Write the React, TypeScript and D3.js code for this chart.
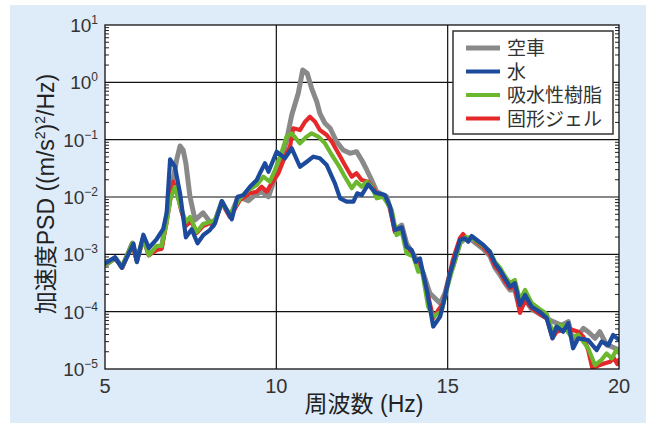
import React, { useEffect, useRef } from 'react';
import * as d3 from 'd3';

// 空車 (gray)
const grayFreq = [5.0, 5.3, 5.5, 5.8, 5.93, 6.12, 6.28, 6.51, 6.65, 6.75, 6.95, 7.09, 7.19, 7.28, 7.36, 7.48, 7.63, 7.86, 8.06, 8.16, 8.41, 8.65, 8.89, 9.18, 9.38, 9.57, 9.77, 9.96, 10.16, 10.3, 10.45, 10.64, 10.77, 10.9, 11.03, 11.18, 11.27, 11.42, 11.57, 11.76, 11.95, 12.15, 12.34, 12.49, 12.64, 12.78, 12.93, 13.02, 13.22, 13.32, 13.46, 13.66, 13.8, 13.95, 14.1, 14.29, 14.48, 14.78, 14.92, 15.07, 15.16, 15.36, 15.53, 15.7, 15.85, 16.04, 16.23, 16.38, 16.53, 16.67, 16.82, 16.96, 17.11, 17.26, 17.45, 17.69, 17.99, 18.33, 18.52, 18.66, 18.96, 19.1, 19.3, 19.44, 19.64, 19.79, 20.0];
const grayVals = [6.5e-4, 8.6e-4, 6.0e-4, 1.57e-3, 8.0e-4, 1.93e-3, 9.7e-4, 1.29e-3, 1.29e-3, 3.24e-3, 1.51e-2, 4.42e-2, 7.75e-2, 6.6e-2, 3.87e-2, 1.01e-2, 3.97e-3, 5.3e-3, 3.71e-3, 3.12e-3, 8.3e-3, 4.53e-3, 1.01e-2, 8.6e-3, 1.08e-2, 1.24e-2, 1.01e-2, 2.12e-2, 4.42e-2, 9.86e-2, 0.269, 0.644, 1.64, 1.44, 0.787, 0.459, 0.288, 0.193, 0.158, 0.092, 0.066, 0.0578, 0.0617, 0.0442, 0.0296, 0.0198, 0.0124, 0.0116, 0.0101, 6.4e-3, 2.65e-3, 3.24e-3, 1.56e-3, 1.11e-3, 8.0e-4, 4.67e-4, 2.09e-4, 1.4e-4, 2.09e-4, 4.67e-4, 6.3e-4, 1.57e-3, 1.93e-3, 1.78e-3, 1.51e-3, 1.24e-3, 9.4e-4, 5.8e-4, 4.36e-4, 3.16e-4, 2.39e-4, 2.39e-4, 1.07e-4, 1.6e-4, 1.11e-4, 9.1e-5, 7.1e-5, 5.8e-5, 6.7e-5, 2.99e-5, 5.1e-5, 4.47e-5, 3.43e-5, 4.47e-5, 2.62e-5, 2.45e-5, 2.14e-5];

// 水 (blue)
const blueFreq = [5.0, 5.29, 5.49, 5.83, 5.93, 6.12, 6.28, 6.51, 6.7, 6.8, 6.9, 7.04, 7.19, 7.36, 7.53, 7.7, 7.87, 8.06, 8.21, 8.41, 8.7, 8.86, 9.04, 9.23, 9.43, 9.52, 9.67, 9.77, 10.01, 10.25, 10.45, 10.69, 10.89, 11.08, 11.27, 11.47, 11.71, 11.86, 12.05, 12.25, 12.36, 12.49, 12.68, 12.88, 13.17, 13.32, 13.46, 13.66, 13.8, 13.95, 14.07, 14.19, 14.39, 14.58, 14.78, 14.92, 15.07, 15.16, 15.36, 15.5, 15.6, 15.7, 15.85, 16.04, 16.23, 16.38, 16.53, 16.67, 16.82, 16.96, 17.11, 17.26, 17.45, 17.69, 17.89, 18.06, 18.18, 18.37, 18.52, 18.66, 18.81, 19.1, 19.35, 19.49, 19.69, 19.83, 20.0];
const blueVals = [6.9e-4, 8.9e-4, 5.8e-4, 1.53e-3, 7.3e-4, 2.2e-3, 1.29e-3, 1.85e-3, 2.77e-3, 5.3e-3, 0.0454, 0.0337, 0.0116, 1.98e-3, 2.73e-3, 1.56e-3, 2.17e-3, 2.65e-3, 3.48e-3, 8.5e-3, 4.08e-3, 9.9e-3, 0.0108, 0.0151, 0.0198, 0.0259, 0.0387, 0.0276, 0.0617, 0.0473, 0.0706, 0.0337, 0.0413, 0.0505, 0.0473, 0.0361, 0.0173, 9.5e-3, 8.3e-3, 8.3e-3, 0.0116, 0.0108, 0.0166, 0.012, 0.0108, 6.8e-3, 2.65e-3, 2.96e-3, 1.36e-3, 1.19e-3, 7.4e-4, 8.5e-4, 2.39e-4, 5.5e-5, 8.2e-5, 1.82e-4, 4.67e-4, 7.0e-4, 1.78e-3, 1.9e-3, 1.66e-3, 2.09e-3, 1.78e-3, 1.46e-3, 1.11e-3, 7.0e-4, 5.3e-4, 3.82e-4, 2.72e-4, 3.12e-4, 1.31e-4, 1.95e-4, 1.22e-4, 9.9e-5, 7.7e-5, 3.43e-5, 5.5e-5, 4.47e-5, 6.3e-5, 2.3e-5, 3.43e-5, 3.2e-5, 2.14e-5, 2.99e-5, 2.62e-5, 3.92e-5, 3.2e-5];

// 吸水性樹脂 (green)
const greenFreq = [5.0, 5.3, 5.5, 5.8, 5.93, 6.12, 6.28, 6.51, 6.65, 6.8, 6.9, 7.04, 7.19, 7.36, 7.48, 7.68, 7.86, 8.06, 8.21, 8.41, 8.65, 8.94, 9.18, 9.43, 9.62, 9.81, 9.96, 10.16, 10.3, 10.45, 10.69, 10.89, 11.03, 11.22, 11.42, 11.62, 11.81, 12.0, 12.2, 12.34, 12.49, 12.64, 12.78, 12.93, 13.12, 13.37, 13.51, 13.66, 13.8, 14.0, 14.14, 14.25, 14.43, 14.58, 14.82, 14.97, 15.13, 15.36, 15.53, 15.7, 15.85, 16.04, 16.23, 16.38, 16.53, 16.67, 16.82, 16.96, 17.11, 17.26, 17.45, 17.69, 17.89, 18.06, 18.19, 18.37, 18.61, 18.81, 19.1, 19.3, 19.49, 19.64, 19.79, 19.92, 20.0];
const greenVals = [6.5e-4, 8.6e-4, 6.0e-4, 1.57e-3, 8.0e-4, 1.93e-3, 9.7e-4, 1.4e-3, 1.4e-3, 3.66e-3, 8.9e-3, 0.0149, 7.2e-3, 3.66e-3, 4.48e-3, 2.45e-3, 3.38e-3, 3.66e-3, 3.97e-3, 7.9e-3, 5.0e-3, 9.5e-3, 0.0132, 0.0162, 0.0226, 0.0185, 0.0296, 0.0617, 0.113, 0.129, 0.0863, 0.113, 0.129, 0.113, 0.0863, 0.054, 0.0361, 0.0226, 0.0142, 0.0185, 0.0151, 0.0185, 0.0151, 9.5e-3, 0.0101, 5.9e-3, 2.17e-3, 2.48e-3, 1.04e-3, 9.1e-4, 4.98e-4, 5.3e-4, 1.22e-4, 8.2e-5, 1.0e-4, 2.39e-4, 5.3e-4, 1.57e-3, 2.0e-3, 1.93e-3, 1.71e-3, 1.4e-3, 1.14e-3, 7.4e-4, 5.8e-4, 4.19e-4, 3.16e-4, 3.56e-4, 1.6e-4, 2.39e-4, 1.42e-4, 1.11e-4, 9.1e-5, 4.42e-5, 5.6e-5, 5.8e-5, 3.66e-5, 3.92e-5, 2.3e-5, 1.17e-5, 1.44e-5, 1.87e-5, 1.53e-5, 2.14e-5, 1.9e-5];

// 固形ジェル (red)
const redFreq = [5.0, 5.3, 5.5, 5.79, 5.93, 6.12, 6.28, 6.51, 6.65, 6.8, 6.99, 7.1, 7.22, 7.36, 7.51, 7.68, 7.86, 8.06, 8.21, 8.41, 8.65, 8.94, 9.23, 9.43, 9.57, 9.72, 9.86, 10.06, 10.25, 10.4, 10.49, 10.69, 10.84, 10.98, 11.13, 11.27, 11.47, 11.62, 11.81, 12.0, 12.2, 12.34, 12.49, 12.68, 12.83, 12.98, 13.12, 13.32, 13.46, 13.66, 13.8, 13.95, 14.07, 14.19, 14.39, 14.58, 14.73, 14.87, 15.02, 15.15, 15.36, 15.45, 15.59, 15.7, 15.85, 16.04, 16.23, 16.38, 16.53, 16.67, 16.82, 16.96, 17.11, 17.26, 17.45, 17.69, 17.89, 18.06, 18.18, 18.37, 18.57, 18.81, 18.96, 19.1, 19.22, 19.44, 19.59, 19.74, 19.85, 19.95, 20.0];
const redVals = [6.5e-4, 8.6e-4, 5.8e-4, 1.51e-3, 7.7e-4, 2.0e-3, 9.7e-4, 1.19e-3, 1.24e-3, 3.66e-3, 0.0185, 0.0122, 5.9e-3, 3.12e-3, 3.81e-3, 2.36e-3, 3.12e-3, 3.52e-3, 3.81e-3, 7.9e-3, 4.48e-3, 8.9e-3, 0.0116, 0.0124, 0.0151, 0.0124, 0.0173, 0.0259, 0.0505, 0.0754, 0.158, 0.147, 0.206, 0.251, 0.206, 0.147, 0.121, 0.092, 0.0578, 0.0361, 0.0226, 0.0259, 0.0198, 0.0185, 0.0142, 0.0101, 0.0108, 6.4e-3, 2.45e-3, 2.77e-3, 1.19e-3, 1.1e-3, 7.3e-4, 7.3e-4, 2.39e-4, 7.7e-5, 1.07e-4, 1.4e-4, 3.56e-4, 8.0e-4, 1.93e-3, 2.26e-3, 1.78e-3, 2.0e-3, 1.64e-3, 1.34e-3, 1.01e-3, 6.3e-4, 4.92e-4, 3.43e-4, 2.59e-4, 2.69e-4, 9.5e-5, 1.6e-4, 1.16e-4, 9.1e-5, 7.7e-5, 3.45e-5, 4.47e-5, 4.79e-5, 4.98e-5, 4.47e-5, 3.66e-5, 2.14e-5, 1.04e-5, 1.17e-5, 1.26e-5, 1.34e-5, 1.56e-5, 1.22e-5, 1.44e-5];

const seriesNames = ['空車', '水', '吸水性樹脂', '固形ジェル'];
const xTicks = [5, 10, 15, 20];
const yExponents = [1, 0, -1, -2, -3, -4, -5];

const App = () => {
  const chartRef = useRef(null);

  useEffect(() => {
    const width = 648;
    const height = 426;
    const margin = { top: 25, right: 29, bottom: 57, left: 105 };
    const font = '"Liberation Sans", Arial, "Noto Sans CJK JP", sans-serif';
    const textColor = '#333';

    const svg = d3.select(chartRef.current)
      .attr('width', width)
      .attr('height', height);
    svg.selectAll('*').remove();

    // light blue panel
    svg.append('rect')
      .attr('x', 10).attr('y', 5)
      .attr('width', 636).attr('height', 418)
      .attr('fill', '#deebf8');

    const x = d3.scaleLinear().domain([5, 20]).range([margin.left, width - margin.right]);
    const y = d3.scaleLog().domain([1e-5, 10]).range([height - margin.bottom, margin.top]);

    const [x0, x1] = x.range();
    const [y0, y1] = y.range();

    svg.append('rect')
      .attr('x', x0).attr('y', y1)
      .attr('width', x1 - x0).attr('height', y0 - y1)
      .attr('fill', 'white');

    const clip = svg.append('clipPath').attr('id', 'plot-clip');
    clip.append('rect').attr('x', x0).attr('y', y1).attr('width', x1 - x0).attr('height', y0 - y1);

    // grid
    const grid = svg.append('g').attr('stroke', '#111').attr('stroke-width', 1.2);
    yExponents.slice(1, -1).forEach(e => {
      grid.append('line').attr('x1', x0).attr('x2', x1).attr('y1', y(10 ** e)).attr('y2', y(10 ** e));
    });
    xTicks.slice(1, -1).forEach(t => {
      grid.append('line').attr('x1', x(t)).attr('x2', x(t)).attr('y1', y1).attr('y2', y0);
    });

    // minor log ticks, inside on left and right
    const minors = [];
    for (let e = -5; e < 1; e++) {
      for (let m = 2; m <= 9; m++) minors.push(m * 10 ** e);
    }
    const ticks = svg.append('g').attr('stroke', '#222').attr('stroke-width', 1);
    minors.forEach(v => {
      ticks.append('line').attr('x1', x0).attr('x2', x0 + 4).attr('y1', y(v)).attr('y2', y(v));
      ticks.append('line').attr('x1', x1).attr('x2', x1 - 4).attr('y1', y(v)).attr('y2', y(v));
    });

    // series
    const series = [
      { freq: grayFreq, vals: grayVals, color: '#898989', w: 5 },
      { freq: redFreq, vals: redVals, color: '#e5282a', w: 4.2 },
      { freq: greenFreq, vals: greenVals, color: '#6bb72e', w: 4.2 },
      { freq: blueFreq, vals: blueVals, color: '#1c4a9c', w: 4.2 },
    ];
    const line = d3.line()
      .x(d => x(d[0]))
      .y(d => y(d[1]));
    const plot = svg.append('g').attr('clip-path', 'url(#plot-clip)');
    series.forEach(s => {
      plot.append('path')
        .datum(s.freq.map((f, i) => [f, s.vals[i]]))
        .attr('d', line)
        .attr('fill', 'none')
        .attr('stroke', s.color)
        .attr('stroke-width', s.w)
        .attr('stroke-linejoin', 'round')
        .attr('stroke-linecap', 'round');
    });

    // frame
    svg.append('rect')
      .attr('x', x0).attr('y', y1)
      .attr('width', x1 - x0).attr('height', y0 - y1)
      .attr('fill', 'none')
      .attr('stroke', '#111')
      .attr('stroke-width', 1.3);

    // y tick labels 10^n
    yExponents.forEach(e => {
      const t = svg.append('text')
        .attr('x', 98)
        .attr('y', y(10 ** e) + 7)
        .attr('text-anchor', 'end')
        .attr('font-family', font)
        .attr('font-size', 19)
        .attr('fill', textColor);
      t.append('tspan').text('10');
      t.append('tspan')
        .attr('dy', -8)
        .attr('font-size', 12)
        .text(e < 0 ? `\u2212${-e}` : `${e}`);
    });

    // x tick labels
    svg.append('g')
      .selectAll('text')
      .data(xTicks)
      .enter()
      .append('text')
      .attr('x', d => x(d))
      .attr('y', 393)
      .attr('text-anchor', 'middle')
      .attr('font-family', font)
      .attr('font-size', 20)
      .attr('fill', textColor)
      .text(d => d);

    // axis titles
    svg.append('text')
      .attr('x', 364)
      .attr('y', 412)
      .attr('text-anchor', 'middle')
      .attr('font-family', font)
      .attr('font-size', 23)
      .attr('fill', '#222')
      .text('周波数 (Hz)');

    const yt = svg.append('text')
      .attr('transform', 'translate(54,194) rotate(-90)')
      .attr('text-anchor', 'middle')
      .attr('font-family', font)
      .attr('font-size', 23)
      .attr('fill', '#222');
    yt.append('tspan').text('加速度PSD ((m/s');
    yt.append('tspan').attr('dy', -9).attr('font-size', 14).text('2');
    yt.append('tspan').attr('dy', 9).text(')');
    yt.append('tspan').attr('dy', -9).attr('font-size', 14).text('2');
    yt.append('tspan').attr('dy', 9).text('/Hz)');

    // legend
    const lg = svg.append('g');
    lg.append('rect')
      .attr('x', 453).attr('y', 31)
      .attr('width', 160).attr('height', 103)
      .attr('fill', 'white')
      .attr('stroke', '#333')
      .attr('stroke-width', 1.5);
    const legendColors = ['#898989', '#1c4a9c', '#6bb72e', '#e5282a'];
    seriesNames.forEach((name, i) => {
      const cy = 48 + i * 23.5;
      lg.append('line')
        .attr('x1', 466).attr('x2', 500)
        .attr('y1', cy).attr('y2', cy)
        .attr('stroke', legendColors[i])
        .attr('stroke-width', i === 0 ? 5 : 4);
      lg.append('text')
        .attr('x', 507)
        .attr('y', cy + 7)
        .attr('font-family', font)
        .attr('font-size', 19)
        .attr('fill', textColor)
        .text(name);
    });
  }, []);

  return (
    <div style={{ position: 'absolute', left: 0, top: 0 }}>
      <svg ref={chartRef} style={{ display: 'block' }}></svg>
    </div>
  );
};

export default App;
